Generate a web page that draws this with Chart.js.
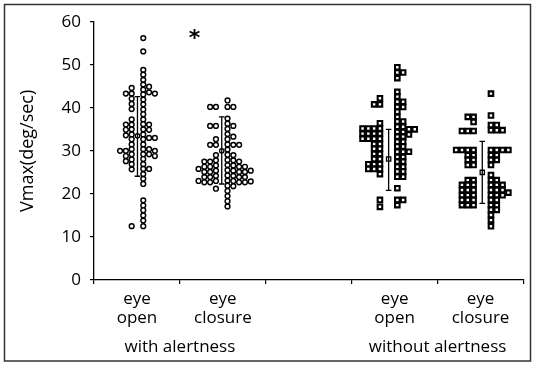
<!DOCTYPE html>
<html>
<head>
<meta charset="utf-8">
<script src="https://cdn.jsdelivr.net/npm/chart.js@4"></script>
<style>
html, body { margin: 0; padding: 0; background: #fff; }
canvas { display: block; }
</style>
</head>
<body>
<canvas id="vmaxChart" width="533" height="367"></canvas>
<script>
// categories and tick labels
const groupLabels = [['eye', 'open'], ['eye', 'closure'], ['eye', 'open'], ['eye', 'closure']];
const conditionLabels = ['with alertness', 'without alertness'];
const yTicks = [0, 10, 20, 30, 40, 50, 60];

// mean and +/- SD per group
const meanVmax = [33.5, 30.0, 28.1, 25.0];
const sdLow = [24.1, 22.3, 20.8, 17.8];
const sdHigh = [42.6, 37.9, 35.0, 32.2];

// individual values, one list per swarm column (nearest the error bar first)
const alertOpenLeft = [
    [44.6, 43.3, 42.1, 40.9, 39.7, 37.3, 36.1, 35.0, 33.8, 32.7, 31.5, 30.4, 29.2, 28.0, 26.9, 25.7, 12.5],
    [43.3, 36.1, 34.9, 33.6, 30.0, 28.8, 27.6],
    [30.0]
];
const alertOpenRight = [
    [56.2, 53.1, 48.8, 47.7, 46.5, 45.4, 44.2, 43.1, 41.9, 40.8, 39.6, 38.5, 37.3, 36.2, 35.0, 33.8, 32.7, 31.5, 30.4, 29.2, 28.1, 26.9, 25.8, 24.6, 23.5, 22.3, 18.5, 17.3, 16.2, 15.0, 13.8, 12.5],
    [44.9, 43.6, 36.1, 34.9, 33.0, 30.4, 29.2, 25.8],
    [43.3, 33.0, 30.0, 28.8]
];
const alertClosureLeft = [
    [40.2, 35.8, 32.7, 31.4, 29.0, 27.8, 26.6, 25.4, 24.2, 23.0, 21.2],
    [40.2, 35.8, 31.4, 27.5, 26.3, 25.1, 23.9, 22.7],
    [27.5, 26.3, 25.1, 23.9, 22.7],
    [25.8, 23.0]
];
const alertClosureRight = [
    [41.7, 40.2, 37.5, 36.3, 35.1, 33.9, 32.7, 31.5, 30.3, 29.1, 27.9, 26.7, 25.5, 24.3, 23.1, 21.9, 20.7, 19.5, 18.3, 17.1],
    [40.2, 35.8, 33.3, 31.4, 29.0, 27.8, 26.6, 25.4, 24.2, 23.0, 21.8],
    [31.4, 27.5, 26.3, 25.1, 23.9, 22.7],
    [26.3, 25.1, 23.9, 22.7],
    [25.4, 22.9]
];
const noAlertOpenLeft = [
    [42.2, 40.8, 36.4, 35.2, 34.0, 32.8, 31.6, 30.5, 29.3, 28.1, 26.9, 25.8, 24.6, 18.6, 17.0],
    [40.8, 35.2, 34.0, 32.8, 31.6, 30.5, 29.3, 28.1, 26.9, 25.8],
    [35.2, 34.0, 32.8, 26.9, 25.8],
    [35.2, 34.0, 32.8]
];
const noAlertOpenRight = [
    [49.4, 48.2, 46.9, 43.7, 42.6, 41.4, 40.2, 39.1, 37.9, 36.8, 35.6, 34.4, 33.3, 32.1, 31.0, 29.8, 28.6, 27.5, 26.3, 25.2, 24.0, 21.3, 18.6, 17.4],
    [48.2, 41.4, 40.2, 36.8, 35.6, 34.4, 33.3, 32.1, 31.0, 29.8, 28.6, 27.5, 26.3, 25.2, 24.0, 18.6],
    [35.0, 33.8, 29.8],
    [35.0]
];
const noAlertClosureLeft = [
    [37.9, 36.7, 34.6, 30.2, 29.0, 27.9, 26.7, 23.2, 22.1, 20.9, 19.7, 18.6, 17.4],
    [37.9, 34.6, 30.2, 29.0, 27.9, 26.7, 23.2, 22.1, 20.9, 19.7, 18.6, 17.4],
    [34.6, 30.2, 22.1, 20.9, 19.7, 18.6, 17.4],
    [30.2]
];
const noAlertClosureRight = [
    [43.3, 38.2, 36.0, 34.8, 30.2, 29.0, 27.9, 26.7, 24.4, 23.2, 22.1, 20.9, 19.7, 18.6, 17.4, 16.3, 15.1, 13.9, 12.5],
    [36.0, 34.8, 30.2, 29.0, 27.9, 23.2, 22.1, 20.9, 19.7, 18.6, 17.4, 16.3],
    [34.8, 30.2, 22.1, 20.9, 19.7],
    [30.2, 20.3]
];

const swarms = [
    {left: alertOpenLeft, right: alertOpenRight},
    {left: alertClosureLeft, right: alertClosureRight},
    {left: noAlertOpenLeft, right: noAlertOpenRight},
    {left: noAlertClosureLeft, right: noAlertClosureRight}
];

// layout of the swarms along the x scale (0..5)
const centres = [0.506, 1.487, 3.43, 4.52];
const firstCol = [1, 1, 1.5, 1.5];
const colStep = 0.0675;
const marker = ['circle', 'circle', 'rect', 'rect'];

const ink = '#000';
const font = '"Open Sans", "DejaVu Sans", sans-serif';

const datasets = [];
swarms.forEach(function(g, gi) {
    const pts = [];
    g.left.forEach(function(col, ci) {
        col.forEach(function(v) { pts.push({x: centres[gi] - (ci + firstCol[gi]) * colStep, y: v}); });
    });
    g.right.forEach(function(col, ci) {
        col.forEach(function(v) { pts.push({x: centres[gi] + (ci + firstCol[gi]) * colStep, y: v}); });
    });
    const square = marker[gi] === 'rect';
    datasets.push({
        data: pts,
        pointStyle: marker[gi],
        pointRadius: square ? 3.2 : 2.4,
        pointBorderWidth: square ? 2.1 : 1.45,
        pointBackgroundColor: '#fff',
        pointBorderColor: ink
    });
    // SD bar with caps
    datasets.push({
        type: 'line',
        data: [{x: centres[gi], y: sdLow[gi]}, {x: centres[gi], y: sdHigh[gi]}],
        showLine: true,
        borderColor: ink,
        borderWidth: 1.3,
        pointStyle: 'line',
        pointRadius: 2.8,
        pointBorderWidth: 1.3,
        pointBorderColor: ink
    });
    // mean marker
    datasets.push({
        data: [{x: centres[gi], y: meanVmax[gi]}],
        pointStyle: marker[gi],
        pointRadius: square ? 3 : 2.2,
        pointBorderWidth: 1.3,
        pointBackgroundColor: '#fff',
        pointBorderColor: ink
    });
});

const xTickValues = [0, 0.5, 1, 1.5, 2, 2.5, 3, 3.5, 4, 4.5, 5];
const catPos = [0.5, 1.5, 3.5, 4.5];
const condPos = [1, 4];

const framePlugin = {
    id: 'frame',
    afterDatasetsDraw: function(chart) {
        const ctx = chart.ctx;
        // significance mark
        ctx.save();
        ctx.fillStyle = ink;
        ctx.font = 'bold 22px "DejaVu Sans", sans-serif';
        ctx.textAlign = 'center';
        ctx.textBaseline = 'alphabetic';
        ctx.fillText('*', chart.scales.x.getPixelForValue(1.17), chart.scales.y.getPixelForValue(57.3) + 12);
        ctx.restore();
    },
    afterDraw: function(chart) {
        const ctx = chart.ctx;
        ctx.save();
        ctx.strokeStyle = '#333';
        ctx.lineWidth = 1.5;
        ctx.strokeRect(4.5, 4.5, 526, 356.5);
        ctx.restore();
    }
};

new Chart(document.getElementById('vmaxChart'), {
    type: 'scatter',
    data: {datasets: datasets},
    plugins: [framePlugin],
    options: {
        responsive: false,
        animation: false,
        events: [],
        layout: {padding: {top: 21.7, right: 9.5, left: 0, bottom: 0}},
        plugins: {legend: {display: false}, tooltip: {enabled: false}},
        scales: {
            x: {
                type: 'linear',
                position: 'bottom',
                min: 0,
                max: 5,
                afterBuildTicks: function(s) { s.ticks = xTickValues.map(function(v) { return {value: v}; }); },
                afterFit: function(s) { s.height = 50; },
                ticks: {
                    autoSkip: false,
                    maxRotation: 0,
                    padding: 5,
                    color: ink,
                    font: {family: font, size: 17, lineHeight: 1.15},
                    callback: function(v) {
                        const i = catPos.indexOf(v);
                        return i < 0 ? '' : groupLabels[i];
                    }
                },
                grid: {
                    drawOnChartArea: false,
                    tickLength: 4,
                    lineWidth: 1.2,
                    color: function(c) { return c.tick && c.tick.value % 1 === 0 ? ink : 'rgba(0,0,0,0)'; }
                },
                border: {color: ink, width: 1.3}
            },
            x2: {
                type: 'linear',
                position: 'bottom',
                min: 0,
                max: 5,
                afterBuildTicks: function(s) { s.ticks = condPos.map(function(v) { return {value: v}; }); },
                afterFit: function(s) { s.height = 37; },
                ticks: {
                    autoSkip: false,
                    maxRotation: 0,
                    padding: 7,
                    color: ink,
                    font: {family: font, size: 17, lineHeight: 1.15},
                    callback: function(v) { return conditionLabels[condPos.indexOf(v)]; }
                },
                grid: {display: false, drawTicks: false},
                border: {display: false}
            },
            y: {
                min: 0,
                max: 60,
                afterBuildTicks: function(s) { s.ticks = yTicks.map(function(v) { return {value: v}; }); },
                afterFit: function(s) { s.width = 94; },
                ticks: {padding: 9, color: ink, font: {family: font, size: 17}},
                title: {
                    display: true,
                    text: 'Vmax(deg/sec)',
                    color: ink,
                    font: {family: font, size: 18},
                    padding: {top: 17, bottom: 0}
                },
                grid: {drawOnChartArea: false, tickLength: 4, lineWidth: 1.2, color: ink},
                border: {color: ink, width: 1.3}
            }
        }
    }
});
</script>
</body>
</html>
